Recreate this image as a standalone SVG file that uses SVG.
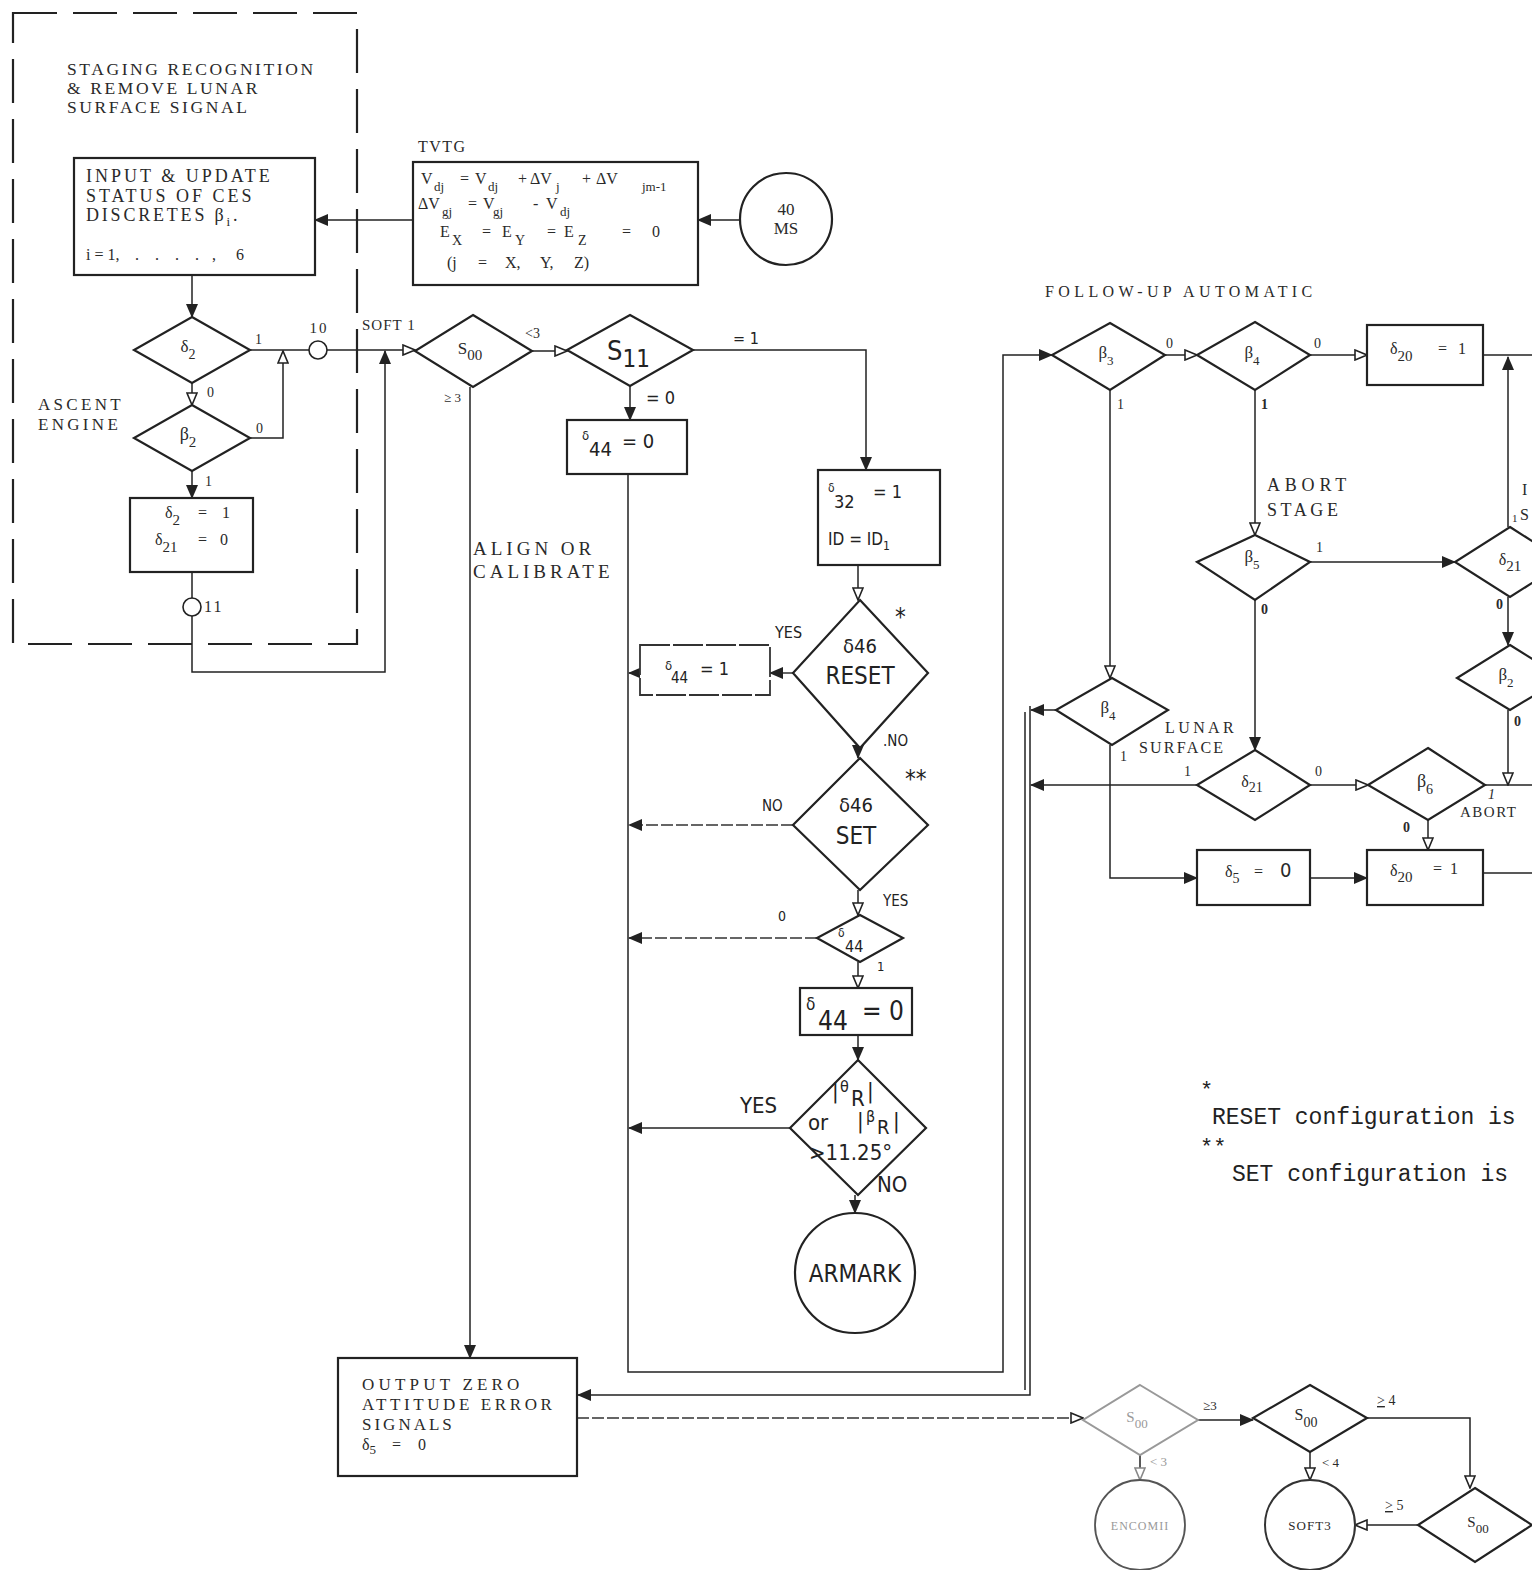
<svg xmlns="http://www.w3.org/2000/svg" width="1532" height="1570" viewBox="0 0 1532 1570">
<defs>
<marker id="af" markerUnits="userSpaceOnUse" markerWidth="14" markerHeight="12" refX="13" refY="6" orient="auto"><path d="M0,0 L14,6 L0,12 z" fill="#222"/></marker>
<marker id="ao" markerUnits="userSpaceOnUse" markerWidth="14" markerHeight="12" refX="13" refY="6" orient="auto"><path d="M1,1 L13,6 L1,11 z" fill="#fff" stroke="#222" stroke-width="1.6"/></marker>
<marker id="ag" markerUnits="userSpaceOnUse" markerWidth="14" markerHeight="12" refX="13" refY="6" orient="auto"><path d="M1,1 L13,6 L1,11 z" fill="#fff" stroke="#888" stroke-width="1.6"/></marker>
</defs>
<style>
.sh{fill:#fff;stroke:#222;stroke-width:2.2}
.sg{fill:#fff;stroke:#999;stroke-width:2}
.ln{fill:none;stroke:#222;stroke-width:1.5}
.dl{fill:none;stroke:#333;stroke-width:1.5;stroke-dasharray:12 3}
.t{font-family:"Liberation Serif",serif;fill:#2a2a2a}
.tc{font-family:"Liberation Serif",serif;fill:#2a2a2a;text-anchor:middle}
.s{font-family:"DejaVu Sans Condensed","Liberation Sans Narrow","Liberation Sans",sans-serif;fill:#222}
.m{font-family:"Liberation Mono","DejaVu Sans Mono",monospace;fill:#222}
.g{fill:#999}
</style>
<rect width="1532" height="1570" fill="#fff"/>

<g id="connectors">
<path class="ln" d="M192,275 V317" marker-end="url(#af)"/>
<path class="ln" d="M250,350 H415" marker-end="url(#ao)"/>
<path class="ln" d="M192,383 V405" marker-end="url(#ao)"/>
<path class="ln" d="M250,438 H283 V351" marker-end="url(#ao)"/>
<path class="ln" d="M192,471 V498" marker-end="url(#af)"/>
<path class="ln" d="M192,572 V672 H385 V351" marker-end="url(#af)"/>
<path class="ln" d="M413,220 H315" marker-end="url(#af)"/>
<path class="ln" d="M740,220 H698" marker-end="url(#af)"/>
<path class="ln" d="M532,351 H567" marker-end="url(#ao)"/>
<path class="ln" d="M693,350 H866 V470" marker-end="url(#af)"/>
<path class="ln" d="M630,386 V420" marker-end="url(#af)"/>
<path class="ln" d="M628,474 V1372 H1003 V355 H1052" marker-end="url(#af)" stroke-width="1.8"/>
<path class="ln" d="M470,387 V1358" marker-end="url(#af)"/>
<path class="ln" d="M858,565 V600" marker-end="url(#ao)"/>
<path class="dl" d="M793,673 H770" marker-end="url(#af)"/>
<path class="ln" d="M640,673 H629" marker-end="url(#af)"/>
<path class="ln" d="M858,748 V758" marker-end="url(#af)"/>
<path class="dl" d="M793,825 H629" marker-end="url(#af)"/>
<path class="ln" d="M858,890 V915" marker-end="url(#ao)"/>
<path class="dl" d="M817,938 H629" marker-end="url(#af)"/>
<path class="ln" d="M858,962 V988" marker-end="url(#ao)"/>
<path class="ln" d="M858,1035 V1060" marker-end="url(#af)"/>
<path class="ln" d="M790,1128 H629" marker-end="url(#af)" stroke-width="2"/>
<path class="ln" d="M855,1195 V1213" marker-end="url(#af)"/>
<path class="ln" d="M1165,355 H1197" marker-end="url(#ao)"/>
<path class="ln" d="M1310,355 H1367" marker-end="url(#ao)"/>
<path class="ln" d="M1483,355 H1532"/>
<path class="ln" d="M1110,390 V678" marker-end="url(#ao)"/>
<path class="ln" d="M1255,390 V535" marker-end="url(#ao)" stroke-width="2"/>
<path class="ln" d="M1310,562 H1455" marker-end="url(#af)"/>
<path class="ln" d="M1508,527 V357" marker-end="url(#af)"/>
<path class="ln" d="M1508,597 V645" marker-end="url(#af)"/>
<path class="ln" d="M1508,710 V785" marker-end="url(#ao)"/>
<path class="ln" d="M1485,785 H1532"/>
<path class="ln" d="M1255,600 V750" marker-end="url(#af)" stroke-width="2"/>
<path class="ln" d="M1310,785 H1368" marker-end="url(#ao)"/>
<path class="ln" d="M1197,785 H1031" marker-end="url(#af)"/>
<path class="ln" d="M1063,710 H1031" marker-end="url(#af)"/>
<path class="ln" d="M1110,745 V878 H1197" marker-end="url(#af)"/>
<path class="ln" d="M1310,878 H1367" marker-end="url(#af)"/>
<path class="ln" d="M1428,820 V850" marker-end="url(#ao)"/>
<path class="ln" d="M1483,873 H1532"/>
<path class="ln" d="M1030,706 V1395 H578" marker-end="url(#af)" stroke-width="2.2"/>
<path class="ln" d="M1025,712 V1390"/>
<path class="dl" d="M577,1418 H1083" marker-end="url(#ao)"/>
<path class="ln" d="M1198,1420 H1253" marker-end="url(#af)"/>
<path class="ln" d="M1140,1455 V1480" marker-end="url(#ag)" stroke="#888"/>
<path class="ln" d="M1367,1418 H1470 V1488" marker-end="url(#ao)"/>
<path class="ln" d="M1310,1452 V1480" marker-end="url(#ao)"/>
<path class="ln" d="M1418,1525 H1355" marker-end="url(#ao)"/>
</g>

<g id="staging-group">
<rect x="13" y="13" width="344" height="631" fill="none" stroke="#222" stroke-width="2.2" stroke-dasharray="44 16"/>
<text class="t" x="67" y="75" font-size="17.5" letter-spacing="2.6">STAGING RECOGNITION</text>
<text class="t" x="67" y="94" font-size="17.5" letter-spacing="2.6">&amp; REMOVE LUNAR</text>
<text class="t" x="67" y="113" font-size="17.5" letter-spacing="2.6">SURFACE SIGNAL</text>
<text class="t" x="38" y="410" font-size="17" letter-spacing="3.3">ASCENT</text>
<text class="t" x="38" y="430" font-size="17" letter-spacing="3.3">ENGINE</text>
<text class="t" x="255" y="344" font-size="14">1</text>
<text class="t" x="207" y="397" font-size="14">0</text>
<text class="t" x="256" y="433" font-size="14">0</text>
<text class="t" x="205" y="486" font-size="14">1</text>
</g>

<g id="input-box">
<rect class="sh" x="74" y="158" width="241" height="117"/>
<text class="t" x="86" y="182" font-size="18" letter-spacing="3">INPUT &amp; UPDATE</text>
<text class="t" x="86" y="202" font-size="18" letter-spacing="3">STATUS OF CES</text>
<text class="t" x="86" y="221" font-size="18" letter-spacing="2.8">DISCRETES β<tspan font-size="13" dy="5">i</tspan><tspan dy="-5">.</tspan></text>
<text class="t" font-size="16"><tspan x="86" y="260">i = 1,</tspan><tspan x="135">.</tspan><tspan x="155">.</tspan><tspan x="175">.</tspan><tspan x="195">.</tspan><tspan x="212">,</tspan><tspan x="236">6</tspan></text>
</g>

<g id="delta2-decision">
<polygon class="sh" points="192,317 250,350 192,383 134,350"/>
<text class="tc" x="188" y="352" font-size="17">δ<tspan font-size="14" dy="7">2</tspan></text>
</g>

<g id="beta2-decision">
<polygon class="sh" points="192,405 250,438 192,471 134,438"/>
<text class="tc" x="188" y="440" font-size="18">β<tspan font-size="15" dy="7">2</tspan></text>
</g>

<g id="set-delta2-box">
<rect class="sh" x="130" y="498" width="123" height="74"/>
<text class="t" x="165" y="518" font-size="16">δ<tspan font-size="15" dy="7">2</tspan><tspan dy="-7" x="198">=</tspan><tspan x="222">1</tspan></text>
<text class="t" x="155" y="545" font-size="16">δ<tspan font-size="15" dy="7">21</tspan><tspan dy="-7" x="198">=</tspan><tspan x="220">0</tspan></text>
</g>

<g id="conn-10">
<circle cx="318" cy="350" r="9" fill="#fff" stroke="#222" stroke-width="1.6"/>
<text class="tc" x="319" y="333" font-size="15" letter-spacing="2">10</text>
</g>
<g id="conn-11">
<circle cx="192" cy="607" r="9" fill="#fff" stroke="#222" stroke-width="1.6"/>
<text class="t" x="204" y="612" font-size="16" letter-spacing="2">11</text>
</g>

<g id="tvtg-box">
<text class="t" x="418" y="152" font-size="16" letter-spacing="1.5">TVTG</text>
<rect class="sh" x="413" y="162" width="285" height="123"/>
<text class="t" font-size="16"><tspan x="421" y="184">V</tspan><tspan x="434" y="191" font-size="13">dj</tspan><tspan x="460" y="184">=</tspan><tspan x="475" y="184">V</tspan><tspan x="488" y="191" font-size="13">dj</tspan><tspan x="518" y="184">+</tspan><tspan x="530" y="184">ΔV</tspan><tspan x="556" y="191" font-size="13">j</tspan><tspan x="582" y="184">+</tspan><tspan x="596" y="184">ΔV</tspan><tspan x="642" y="191" font-size="13">jm-1</tspan></text>
<text class="t" font-size="16"><tspan x="418" y="209">ΔV</tspan><tspan x="442" y="216" font-size="13">gj</tspan><tspan x="468" y="209">=</tspan><tspan x="483" y="209">V</tspan><tspan x="493" y="216" font-size="13">gj</tspan><tspan x="533" y="209">-</tspan><tspan x="546" y="209">V</tspan><tspan x="560" y="216" font-size="13">dj</tspan></text>
<text class="t" font-size="16"><tspan x="440" y="237">E</tspan><tspan x="452" y="245" font-size="14">X</tspan><tspan x="482" y="237">=</tspan><tspan x="502" y="237">E</tspan><tspan x="515" y="245" font-size="14">Y</tspan><tspan x="547" y="237">=</tspan><tspan x="564" y="237">E</tspan><tspan x="578" y="245" font-size="14">Z</tspan><tspan x="622" y="237">=</tspan><tspan x="652" y="237">0</tspan></text>
<text class="t" font-size="16"><tspan x="447" y="268">(j</tspan><tspan x="478">=</tspan><tspan x="505">X,</tspan><tspan x="540">Y,</tspan><tspan x="574">Z)</tspan></text>
</g>

<g id="clock-40ms">
<circle cx="786" cy="219" r="46" fill="#fff" stroke="#222" stroke-width="2.2"/>
<text class="tc" x="786" y="215" font-size="17">40</text>
<text class="tc" x="786" y="234" font-size="17">MS</text>
</g>

<g id="s00-decision">
<text class="t" x="362" y="330" font-size="15" letter-spacing="1">SOFT 1</text>
<polygon class="sh" points="473,315 532,351 473,387 415,351"/>
<text class="tc" x="470" y="354" font-size="17">S<tspan font-size="15" dy="6">00</tspan></text>
<text class="t" x="525" y="338" font-size="14" fill="#555">&lt;3</text>
<text class="t" x="444" y="402" font-size="13">≥ 3</text>
<text class="t" x="473" y="555" font-size="19" letter-spacing="4">ALIGN OR</text>
<text class="t" x="473" y="578" font-size="19" letter-spacing="4">CALIBRATE</text>
</g>

<g id="s11-decision">
<polygon class="sh" points="630,315 693,350 630,386 567,350"/>
<text class="s" x="607" y="360" font-size="27">S<tspan font-size="24" dy="7">11</tspan></text>
<text class="s" x="733" y="344" font-size="16">= 1</text>
<text class="s" x="646" y="404" font-size="18">= 0</text>
</g>

<g id="delta44-zero-top">
<rect class="sh" x="567" y="420" width="120" height="54"/>
<text class="s" font-size="20"><tspan x="582" y="440" font-size="13">δ</tspan><tspan x="589" y="456">44</tspan><tspan x="622" y="448">= 0</tspan></text>
</g>

<g id="delta32-box">
<rect class="sh" x="818" y="470" width="122" height="95"/>
<text class="s" font-size="18"><tspan x="828" y="492" font-size="12">δ</tspan><tspan x="834" y="508">32</tspan><tspan x="873" y="498">= 1</tspan></text>
<text class="s" x="828" y="545" font-size="17">ID = ID<tspan font-size="12" dy="5">1</tspan></text>
</g>

<g id="reset-decision">
<polygon class="sh" points="860,600 928,673 860,748 793,673"/>
<text class="s" x="860" y="653" font-size="20" text-anchor="middle">δ46</text>
<text class="s" x="860" y="684" font-size="24" text-anchor="middle">RESET</text>
<text class="s" x="895" y="625" font-size="24">*</text>
<text class="s" x="775" y="638" font-size="16">YES</text>
<text class="s" x="883" y="746" font-size="15">.NO</text>
</g>

<g id="delta44-one-box">
<rect x="640" y="645" width="130" height="50" fill="#fff" stroke="#333" stroke-width="1.8" stroke-dasharray="30 3"/>
<text class="s" font-size="18"><tspan x="665" y="670" font-size="13">δ</tspan><tspan x="671" y="683" font-size="15">44</tspan><tspan x="700" y="675">= 1</tspan></text>
</g>

<g id="set-decision">
<polygon class="sh" points="860,758 928,825 860,890 793,825"/>
<text class="s" x="856" y="812" font-size="20" text-anchor="middle">δ46</text>
<text class="s" x="856" y="844" font-size="24" text-anchor="middle">SET</text>
<text class="s" x="905" y="787" font-size="24">**</text>
<text class="s" x="762" y="811" font-size="15">NO</text>
<text class="s" x="883" y="906" font-size="15">YES</text>
</g>

<g id="delta44-decision">
<polygon class="sh" points="860,915 903,938 860,962 817,938"/>
<text class="s" font-size="16"><tspan x="838" y="937" font-size="12">δ</tspan><tspan x="845" y="952">44</tspan></text>
<text class="s" x="778" y="921" font-size="14">0</text>
<text class="s" x="877" y="971" font-size="13">1</text>
</g>

<g id="delta44-zero-box">
<rect class="sh" x="800" y="988" width="112" height="47"/>
<text class="s" font-size="26"><tspan x="806" y="1010" font-size="17">δ</tspan><tspan x="818" y="1030">44</tspan><tspan x="862" y="1020">= 0</tspan></text>
</g>

<g id="angle-decision">
<polygon class="sh" points="858,1060 926,1128 858,1195 790,1128"/>
<text class="s" font-size="22"><tspan x="832" y="1098">|</tspan><tspan x="840" y="1092" font-size="16">θ</tspan><tspan x="851" y="1106">R</tspan><tspan x="867" y="1098">|</tspan></text>
<text class="s" font-size="22"><tspan x="808" y="1130">or</tspan><tspan x="857" y="1128">|</tspan><tspan x="866" y="1122" font-size="16">β</tspan><tspan x="877" y="1134" font-size="20">R</tspan><tspan x="893" y="1128">|</tspan></text>
<text class="s" x="809" y="1160" font-size="22">&gt;11.25°</text>
<text class="s" x="740" y="1113" font-size="22">YES</text>
<text class="s" x="877" y="1192" font-size="22">NO</text>
</g>

<g id="armark">
<circle cx="855" cy="1273" r="60" fill="#fff" stroke="#222" stroke-width="2.2"/>
<text class="s" x="855" y="1282" font-size="24" text-anchor="middle">ARMARK</text>
</g>

<g id="output-zero-box">
<rect class="sh" x="338" y="1358" width="239" height="118"/>
<text class="t" x="362" y="1390" font-size="17" letter-spacing="4.2">OUTPUT ZERO</text>
<text class="t" x="362" y="1410" font-size="17" letter-spacing="3.6">ATTITUDE ERROR</text>
<text class="t" x="362" y="1430" font-size="17" letter-spacing="3">SIGNALS</text>
<text class="t" x="362" y="1450" font-size="16">δ<tspan font-size="13" dy="4">5</tspan><tspan dy="-4" x="392">=</tspan><tspan x="418">0</tspan></text>
</g>

<g id="follow-up-label">
<text class="t" x="1045" y="297" font-size="16" letter-spacing="4.4">FOLLOW-UP  AUTOMATIC</text>
</g>

<g id="beta3-decision">
<polygon class="sh" points="1110,323 1165,355 1110,390 1052,355"/>
<text class="tc" x="1106" y="358" font-size="17">β<tspan font-size="13" dy="7">3</tspan></text>
<text class="t" x="1166" y="348" font-size="14">0</text>
<text class="t" x="1117" y="409" font-size="14">1</text>
</g>

<g id="beta4-decision">
<polygon class="sh" points="1255,322 1310,355 1255,390 1197,355"/>
<text class="tc" x="1252" y="358" font-size="17">β<tspan font-size="13" dy="7">4</tspan></text>
<text class="t" x="1314" y="348" font-size="14">0</text>
<text class="t" x="1261" y="409" font-size="14" font-weight="bold">1</text>
<text class="t" x="1267" y="491" font-size="18" letter-spacing="4.8">ABORT</text>
<text class="t" x="1267" y="516" font-size="18" letter-spacing="3.6">STAGE</text>
</g>

<g id="delta20-box-top">
<rect class="sh" x="1367" y="325" width="116" height="60"/>
<text class="t" x="1390" y="354" font-size="16">δ<tspan font-size="15" dy="7">20</tspan><tspan dy="-7" x="1438">=</tspan><tspan x="1458">1</tspan></text>
</g>

<g id="beta5-decision">
<polygon class="sh" points="1255,535 1310,562 1255,600 1197,562"/>
<text class="tc" x="1252" y="562" font-size="17">β<tspan font-size="13" dy="7">5</tspan></text>
<text class="t" x="1316" y="552" font-size="14">1</text>
<text class="t" x="1261" y="614" font-size="14" font-weight="bold">0</text>
</g>

<g id="delta21-decision-right">
<polygon class="sh" points="1510,527 1565,562 1510,597 1455,562"/>
<text class="tc" x="1510" y="565" font-size="16">δ<tspan font-size="15" dy="6">21</tspan></text>
<text class="t" x="1512" y="522" font-size="11">1</text>
<text class="t" x="1520" y="520" font-size="16">S</text>
<text class="t" x="1522" y="495" font-size="16">I</text>
<text class="t" x="1496" y="609" font-size="14" font-weight="bold">0</text>
</g>

<g id="beta2-decision-right">
<polygon class="sh" points="1510,645 1563,678 1510,710 1457,678"/>
<text class="tc" x="1506" y="680" font-size="17">β<tspan font-size="13" dy="7">2</tspan></text>
<text class="t" x="1514" y="726" font-size="14" font-weight="bold">0</text>
</g>

<g id="beta4-decision-lower">
<polygon class="sh" points="1112,678 1168,710 1112,745 1056,710"/>
<text class="tc" x="1108" y="713" font-size="17">β<tspan font-size="13" dy="7">4</tspan></text>
<text class="t" x="1120" y="761" font-size="14">1</text>
</g>

<g id="delta21-decision-lower">
<polygon class="sh" points="1255,750 1310,785 1255,820 1197,785"/>
<text class="tc" x="1252" y="787" font-size="16">δ<tspan font-size="14" dy="5">21</tspan></text>
<text class="t" x="1165" y="733" font-size="16" letter-spacing="3.4">LUNAR</text>
<text class="t" x="1139" y="753" font-size="16" letter-spacing="2.2">SURFACE</text>
<text class="t" x="1184" y="776" font-size="14">1</text>
<text class="t" x="1315" y="776" font-size="14">0</text>
</g>

<g id="beta6-decision">
<polygon class="sh" points="1428,748 1485,785 1428,820 1368,785"/>
<text class="tc" x="1425" y="787" font-size="18">β<tspan font-size="14" dy="7">6</tspan></text>
<text class="t" x="1488" y="799" font-size="14" font-style="italic">1</text>
<text class="t" x="1460" y="817" font-size="15" letter-spacing="1.5">ABORT</text>
<text class="t" x="1403" y="832" font-size="14" font-weight="bold">0</text>
</g>

<g id="delta5-box">
<rect class="sh" x="1197" y="850" width="113" height="55"/>
<text class="t" x="1225" y="877" font-size="16">δ<tspan font-size="14" dy="6">5</tspan><tspan dy="-6" x="1254">=</tspan><tspan x="1280" font-size="20" font-family="DejaVu Sans Condensed,Liberation Sans,sans-serif">0</tspan></text>
</g>

<g id="delta20-box-lower">
<rect class="sh" x="1367" y="850" width="116" height="55"/>
<text class="t" x="1390" y="876" font-size="16">δ<tspan font-size="15" dy="6">20</tspan><tspan dy="-8" x="1433">=</tspan><tspan x="1450">1</tspan></text>
</g>

<g id="notes">
<text class="m" x="1200" y="1097" font-size="22">*</text>
<text class="m" x="1212" y="1124" font-size="23">RESET configuration is</text>
<text class="m" x="1200" y="1154" font-size="22">**</text>
<text class="m" x="1232" y="1181" font-size="23">SET configuration is</text>
</g>

<g id="s00-bottom-a">
<polygon class="sg" points="1140,1385 1198,1420 1140,1455 1083,1420"/>
<text class="tc g" x="1137" y="1422" font-size="15">S<tspan font-size="13" dy="6">00</tspan></text>
<text class="t" x="1203" y="1410" font-size="13">≥3</text>
<text class="t g" x="1150" y="1466" font-size="13">&lt; 3</text>
</g>

<g id="encom">
<circle cx="1140" cy="1525" r="45" fill="#fff" stroke="#555" stroke-width="1.8"/>
<text class="tc g" x="1140" y="1530" font-size="12" letter-spacing="1">ENCOMII</text>
</g>

<g id="s00-bottom-b">
<polygon class="sh" points="1310,1385 1367,1418 1310,1452 1253,1418"/>
<text class="tc" x="1306" y="1420" font-size="16">S<tspan font-size="14" dy="7">00</tspan></text>
<text class="t" x="1377" y="1405" font-size="14"><tspan text-decoration="underline">&gt;</tspan> 4</text>
<text class="t" x="1322" y="1467" font-size="13" fill="#555">&lt; 4</text>
</g>

<g id="soft3">
<circle cx="1310" cy="1525" r="45" fill="#fff" stroke="#333" stroke-width="2"/>
<text class="tc" x="1310" y="1530" font-size="13" fill="#777" letter-spacing="1">SOFT3</text>
</g>

<g id="s00-bottom-c">
<polygon class="sh" points="1475,1488 1532,1525 1475,1562 1418,1525"/>
<text class="tc" x="1478" y="1527" font-size="15" fill="#555">S<tspan font-size="13" dy="6">00</tspan></text>
<text class="t" x="1385" y="1510" font-size="14"><tspan text-decoration="underline">&gt;</tspan> 5</text>
</g>
</svg>
